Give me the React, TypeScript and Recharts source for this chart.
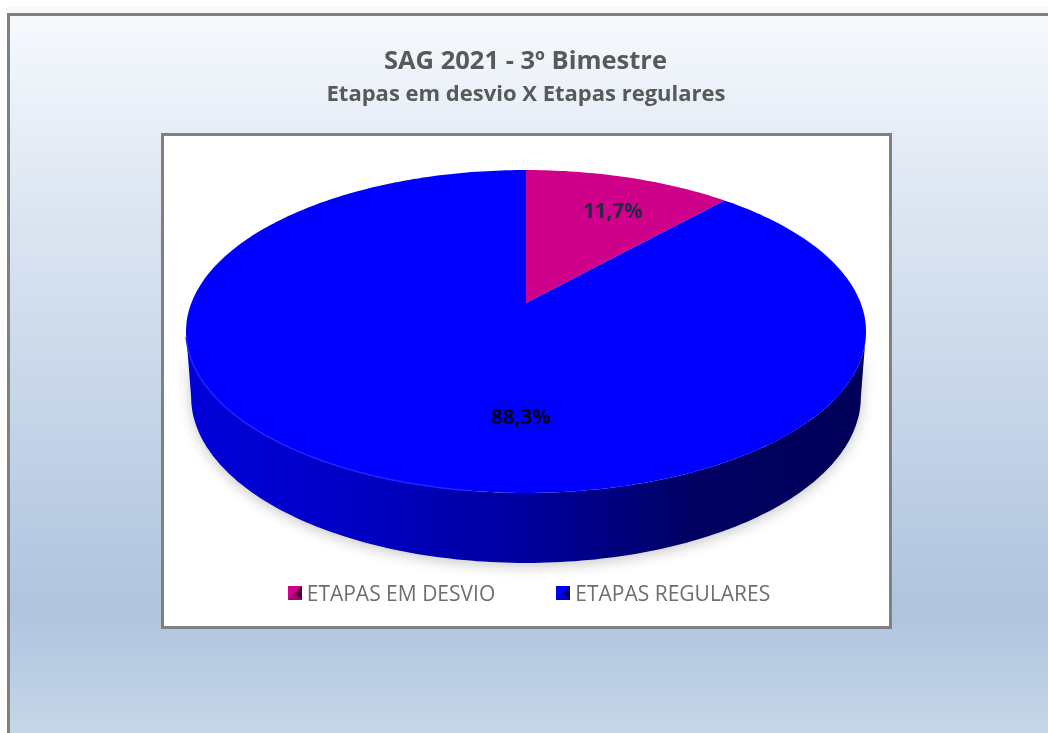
import React from "react";
import { PieChart, Pie, Legend } from "recharts";

const categories = ["ETAPAS EM DESVIO", "ETAPAS REGULARES"];
const percentages = [11.7, 88.3];
const sliceColors = ["#cf008a", "#0000ff"];

const chartData = categories.map((name, i) => ({ name, value: percentages[i], fill: sliceColors[i] }));

const WIDTH = 1048;
const HEIGHT = 733;

// perspective: the apex sits above the centre of the ellipse
const PERSPECTIVE = 0.1765;
const WIDTH_FACTOR = 0.9843;
const TILT = 0.46;

const project = (cx: number, cy: number, r: number, deg: number, f = 1) => {
  const a = (deg * Math.PI) / 180;
  const u = Math.sin(a) * f;
  const v = Math.cos(a) * f;
  const w = 1 + PERSPECTIVE * v;
  return { x: cx + (WIDTH_FACTOR * r * u) / w, y: cy - (TILT * r * v) / w, v };
};

// bottom rim of the wall is a little narrower and further down in front
const dropped = (p: { x: number; y: number; v: number }, cx: number) => ({
  x: cx + (p.x - cx) * 0.985,
  y: p.y + 64 - 6 * p.v,
});

const pts = (list: { x: number; y: number }[]) =>
  list.map((p, i) => `${i ? "L" : "M"}${p.x.toFixed(1)},${p.y.toFixed(1)}`).join(" ");

const sweep = (from: number, to: number) => {
  const out: number[] = [];
  const n = Math.max(2, Math.ceil(Math.abs(to - from)));
  for (let i = 0; i <= n; i++) out.push(from + ((to - from) * i) / n);
  return out;
};

const PieSlice3D = (props: any) => {
  const { cx, cy, outerRadius, startAngle, endAngle, fill } = props;
  const from = 90 - startAngle;
  const to = 90 - endAngle;
  const rim = sweep(from, to).map((d) => project(cx, cy, outerRadius, d));
  const top = `M${cx},${cy} ${pts(rim).replace("M", "L")} Z`;

  // the wall only shows between the two widest points of the ellipse
  const front = sweep(Math.max(from, 100.2), Math.min(to, 259.8)).map((d) => project(cx, cy, outerRadius, d));
  const hasWall = from < 259.8 && to > 100.2;
  const wall = hasWall
    ? `${pts(front)} ${pts(front.map((p) => dropped(p, cx)).reverse()).replace("M", "L")} Z`
    : "";
  const glint = sweep(188, 258).map((d) => project(cx, cy, outerRadius, d));

  return (
    <g>
      <defs>
        <linearGradient id="wallShade" gradientUnits="userSpaceOnUse" x1={190} y1={0} x2={862} y2={0}>
          <stop offset={0} stopColor="#0000d8" />
          <stop offset={0.25} stopColor="#0000c4" />
          <stop offset={0.5} stopColor="#00009e" />
          <stop offset={0.75} stopColor="#000062" />
          <stop offset={1} stopColor="#000058" />
        </linearGradient>
        <filter id="softShadow" x="-10%" y="-20%" width="120%" height="140%">
          <feGaussianBlur stdDeviation="7" />
        </filter>
      </defs>
      {hasWall && <path d={wall} fill="#000" opacity={0.22} filter="url(#softShadow)" transform="translate(0,3)" />}
      {hasWall && <path d={wall} fill="url(#wallShade)" />}
      <path d={top} fill={fill} />
      {hasWall && <path d={pts(glint)} fill="none" stroke="#2424ff" strokeWidth={1.5} />}
    </g>
  );
};

// where the percentages sit on each slice (rim fraction, then nudge)
const labelPlace = [
  { f: 0.82, dx: 0, dy: 12 },
  { f: 0.7, dx: 90, dy: -2 },
];

const renderLabel = (props: any) => {
  const { cx, cy, outerRadius, midAngle, index, value } = props;
  const place = labelPlace[index];
  const p = project(cx, cy, outerRadius, 90 - midAngle, place.f);
  return (
    <text
      x={p.x + place.dx}
      y={p.y + place.dy}
      textAnchor="middle"
      dominantBaseline="central"
      fontFamily="'Open Sans', sans-serif"
      fontWeight={700}
      fontSize={20.5}
      fill={index === 0 ? "#222a48" : "#000022"}
    >
      {Number(value).toFixed(1).replace(".", ",")}%
    </text>
  );
};

const LegendIcon = ({ color }: { color: string }) => (
  <svg width={14} height={14} style={{ display: "block", marginRight: 5 }}>
    <rect width={14} height={14} fill={color} />
    <polygon points="14,0 14,14 7,7" fill="#000" opacity={0.6} />
    <polygon points="0,14 14,14 7,7" fill="#000" opacity={0.22} />
  </svg>
);

const renderLegend = () => (
  <div
    style={{
      display: "flex",
      fontFamily: "'Open Sans', sans-serif",
      fontSize: 21,
      color: "#6e6e6e",
      justifyContent: "center",
      gap: 61,
    }}
  >
    {chartData.map((d) => (
      <div key={d.name} style={{ display: "flex", alignItems: "center", lineHeight: "26px", whiteSpace: "nowrap" }}>
        <LegendIcon color={d.fill} />
        {d.name}
      </div>
    ))}
  </div>
);

export default function App() {
  return (
    <div
      style={{
        position: "fixed",
        left: 0,
        top: 0,
        width: WIDTH,
        height: HEIGHT,
        overflow: "hidden",
        background: "#fff",
        filter: "blur(0.6px)",
      }}
    >
      <div style={{ position: "absolute", left: 6, right: 0, top: 7, height: 6, background: "#f8f8f8" }} />
      <div
        style={{
          position: "absolute",
          left: 7,
          top: 13,
          width: 1080,
          height: 760,
          border: "3px solid #808080",
          background:
            "linear-gradient(180deg, #f6fafd 0px, #e1e9f4 154px, #afc4de 594px, #c6d6e8 717px)",
        }}
      />
      <div
        style={{
          position: "absolute",
          left: 161,
          top: 133,
          width: 725,
          height: 490,
          border: "3px solid #808080",
          background: "#fff",
        }}
      />
      <div
        style={{
          position: "absolute",
          left: 0,
          width: 1051,
          top: 42,
          textAlign: "center",
          fontFamily: "'Open Sans', sans-serif",
          fontWeight: 700,
          fontSize: 25.5,
          lineHeight: "34px",
          color: "#595959",
        }}
      >
        SAG 2021 - 3º Bimestre
      </div>
      <div
        style={{
          position: "absolute",
          left: 0,
          width: 1052,
          top: 77,
          textAlign: "center",
          fontFamily: "'Open Sans', sans-serif",
          fontWeight: 700,
          fontSize: 22,
          lineHeight: "30px",
          color: "#595959",
        }}
      >
        Etapas em desvio X Etapas regulares
      </div>
      <div style={{ position: "absolute", left: 0, top: 0 }}>
        <PieChart width={WIDTH} height={HEIGHT} margin={{ top: 0, right: 0, bottom: 0, left: 0 }}>
          <Pie
            data={chartData}
            dataKey="value"
            nameKey="name"
            cx={526}
            cy={303}
            outerRadius={340}
            startAngle={90}
            endAngle={-270}
            stroke="none"
            shape={PieSlice3D}
            label={renderLabel}
            labelLine={false}
            isAnimationActive={false}
          />
          <Legend
            content={renderLegend}
            wrapperStyle={{ position: "absolute", left: 164, top: 580, width: 730, height: 26, bottom: "auto" }}
          />
        </PieChart>
      </div>
    </div>
  );
}
